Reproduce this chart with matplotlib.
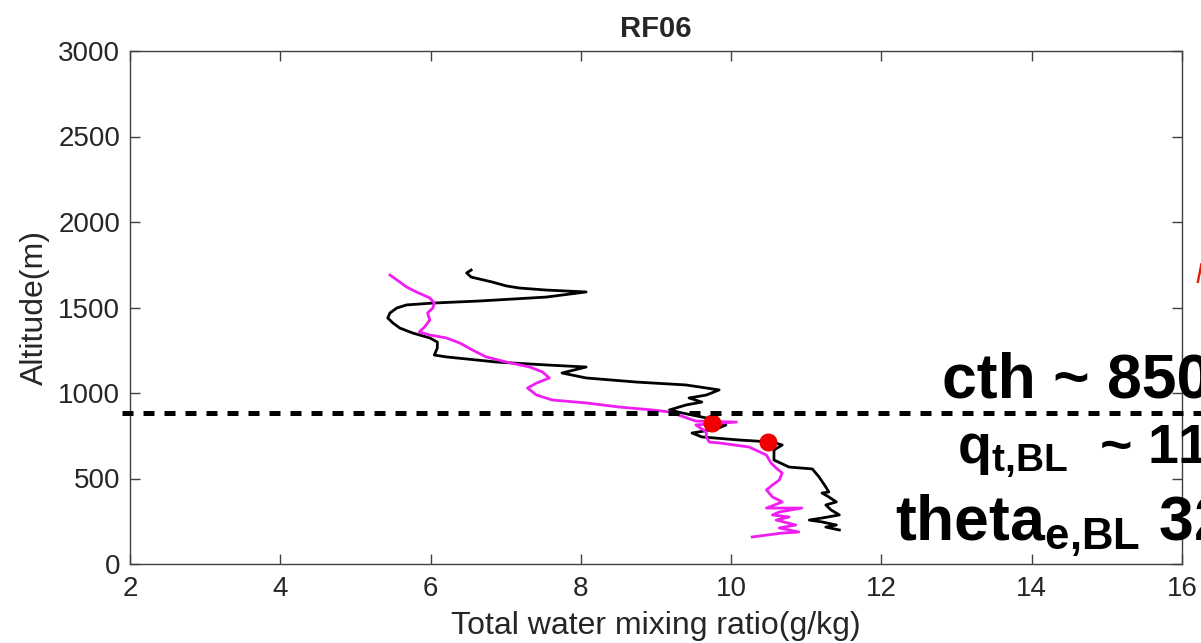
import matplotlib
matplotlib.use("Agg")
import matplotlib.pyplot as plt

plt.rcParams['font.family'] = ['Liberation Sans', 'DejaVu Sans']
plt.rcParams['mathtext.fontset'] = 'custom'
plt.rcParams['mathtext.rm'] = 'Liberation Sans:bold'
plt.rcParams['mathtext.bf'] = 'Liberation Sans:bold'
plt.rcParams['mathtext.it'] = 'Liberation Sans:bold'

# ---- data ----
black_qt = [6.54, 6.48, 6.54, 6.82, 7.01, 7.18, 7.54, 8.07, 7.54, 6.65, 6.03, 5.68,
            5.55, 5.46, 5.43, 5.50, 5.59, 5.76, 5.99, 6.09, 6.09, 6.05, 6.21, 6.88,
            7.54, 8.07, 7.75, 8.07, 8.74, 9.40, 9.84, 9.67, 9.44, 9.61, 9.40, 9.18,
            9.35, 9.67, 9.93, 9.80, 9.48, 9.61, 10.11, 10.55, 10.68, 10.57, 10.57,
            10.77, 11.08, 11.17, 11.26, 11.30, 11.21, 11.30, 11.40, 11.26, 11.33,
            11.44, 11.21, 11.04, 11.21, 11.40, 11.26, 11.44]
black_alt = [1719, 1702, 1678, 1649, 1626, 1614, 1602, 1591, 1561, 1538, 1526, 1515,
             1497, 1468, 1439, 1409, 1380, 1351, 1322, 1298, 1263, 1222, 1211, 1181,
             1164, 1152, 1117, 1088, 1064, 1047, 1018, 988, 971, 947, 930, 901,
             883, 854, 813, 789, 766, 743, 725, 713, 696, 667, 608,
             567, 556, 509, 450, 421, 415, 392, 363, 345, 316,
             287, 269, 257, 246, 228, 216, 199]

magenta_qt = [5.46, 5.59, 5.68, 5.81, 5.99, 6.05, 6.03, 5.96, 5.99, 5.92, 5.85, 5.99,
              6.21, 6.39, 6.56, 6.74, 7.01, 7.32, 7.49, 7.58, 7.41, 7.29, 7.41, 7.62,
              8.07, 8.51, 8.95, 9.18, 9.53, 10.07, 9.53, 9.67, 9.67, 9.71, 9.84,
              10.24, 10.47, 10.53, 10.60, 10.68, 10.64, 10.55, 10.47, 10.55, 10.68,
              10.47, 10.94, 10.64, 10.55, 10.77, 10.60, 10.86, 10.64, 10.90, 10.68, 10.28]
magenta_alt = [1690, 1649, 1620, 1591, 1556, 1526, 1497, 1468, 1427, 1386, 1357, 1339,
               1322, 1292, 1251, 1211, 1181, 1152, 1123, 1088, 1058, 1029, 988, 959,
               942, 918, 901, 889, 836, 830, 813, 772, 743, 713, 708,
               684, 637, 591, 561, 532, 491, 462, 433, 392, 363,
               327, 327, 304, 287, 275, 257, 228, 211, 187, 181, 158]

dots_qt = [9.75, 10.49]
dots_alt = [825, 713]

cth_alt = 882
xticks = [2, 4, 6, 8, 10, 12, 14, 16]
yticks = [0, 500, 1000, 1500, 2000, 2500, 3000]

# ---- figure ----
W, H = 1201, 643
fig = plt.figure(figsize=(W / 100, H / 100), dpi=100)
ax = fig.add_axes([130 / W, 1 - 564 / H, (1182 - 130) / W, (564 - 51) / H])

ax.plot(black_qt, black_alt, color='black', lw=2.0, zorder=3)
ax.plot(magenta_qt, magenta_alt, color='#f01ef0', lw=2.0, zorder=3)
ax.plot(dots_qt, dots_alt, 'o', color='#f00000', ms=12, mec='#f00000', zorder=4)

ax.plot([1.89, 17.2], [cth_alt, cth_alt], color='black', lw=3.6,
        dashes=(2.2, 2.0), dash_capstyle='butt', clip_on=False, zorder=5)

ax.set_xlim(2, 16)
ax.set_ylim(0, 3000)
ax.set_xticks(xticks)
ax.set_yticks(yticks)
gray = '#262626'
for s in ax.spines.values():
    s.set_color('#404040')
    s.set_linewidth(1.0)
ax.tick_params(direction='in', length=7, width=1.0, color='#404040',
               top=True, right=True, labelsize=20, labelcolor=gray)
ax.tick_params(axis='x', pad=9)
ax.tick_params(axis='y', pad=7)

ax.set_xlabel('Total water mixing ratio(g/kg)', fontsize=23, color=gray, labelpad=6)
ax.set_ylabel('Altitude(m)', fontsize=23, color=gray, labelpad=6)
ax.set_title('RF06', fontsize=21, fontweight='bold', color=gray, pad=10)

# annotation texts (cut off by the figure edge, as in the reference)
fig.text(942 / W, 1 - 397 / H, 'cth ~ 850 m', fontsize=45, fontweight='bold',
         ha='left', va='baseline')
fig.text(957 / W, 1 - 463 / H, r'q$_{\mathrm{t{,}BL}}$  ~ 11 g/kg', fontsize=40,
         fontweight='bold', ha='left', va='baseline')
fig.text(895 / W, 1 - 540 / H, r'theta$_{\mathrm{e{,}BL}}$ 325 K', fontsize=45,
         fontweight='bold', ha='left', va='baseline')
fig.text(1196 / W, 1 - 283 / H, 'h', fontsize=20, style='italic', color='#e02000',
         ha='left', va='baseline')

fig.savefig('out.png', dpi=100)
